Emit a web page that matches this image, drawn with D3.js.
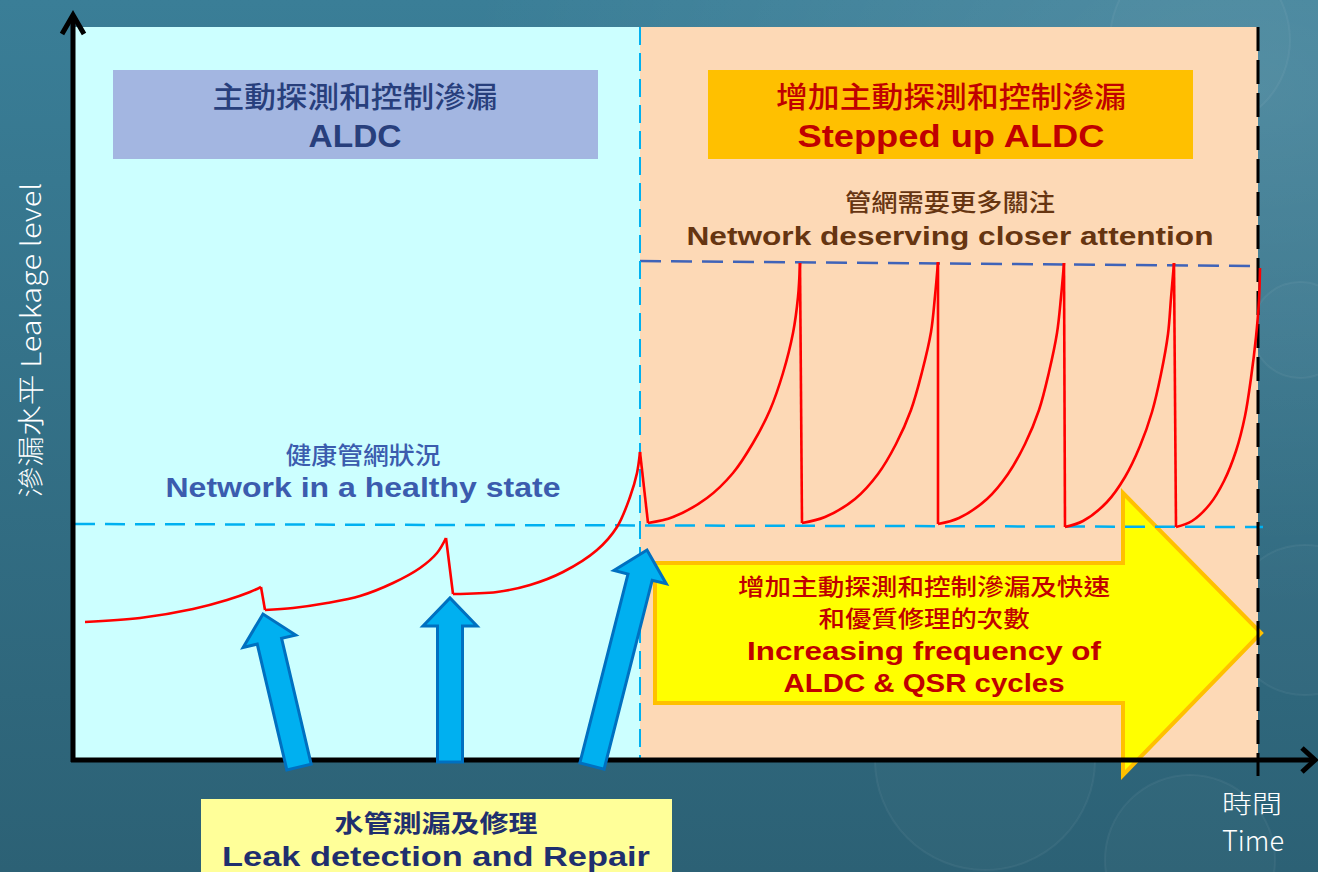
<!DOCTYPE html>
<html lang="en">
<head>
  <meta charset="UTF-8">
  <title>Leakage level over time</title>
  <style>
    body { margin: 0; background: #2f6a80; }
    svg { display: block; }
  </style>
</head>
<body>
  <svg id="svg" width="1318" height="872"></svg>

  <script src="https://d3js.org/d3.v7.min.js"></script>
  <script>
    // time runs 0..118.5 along x, leakage 0..73.3 up y (no tick labels in the original)

    // red leakage curve, one array per cycle, points are [time, leakage]
    const healthyCycles = [
      [[1.2, 13.8], [6.7, 14.2], [12.0, 15.1], [15.4, 16.0], [17.7, 16.8], [18.8, 17.3]],
      [[19.2, 15.0], [22.0, 15.2], [25.4, 15.7], [28.7, 16.4], [32.0, 17.7], [34.7, 19.2], [36.4, 20.7], [37.3, 22.2]],
      [[38.0, 16.6], [42.4, 16.8], [45.7, 17.5], [49.0, 18.8], [52.4, 21.0], [54.4, 23.3], [55.7, 26.3], [56.4, 28.7], [56.7, 30.8]]
    ]
    const steppedCycles = [
      [[57.5, 23.7], [60.0, 24.3], [63.4, 26.2], [66.0, 28.7], [68.0, 31.7], [69.7, 35.0], [71.0, 38.7], [72.0, 42.7], [72.5, 46.3], [72.7, 49.7]],
      [[72.9, 23.7], [75.2, 24.3], [78.2, 26.1], [80.5, 28.6], [82.3, 31.6], [83.8, 35.0], [84.9, 38.8], [85.8, 42.8], [86.2, 46.4], [86.5, 49.8]],
      [[86.5, 23.6], [88.6, 24.2], [91.4, 26.1], [93.5, 28.6], [95.2, 31.6], [96.6, 35.0], [97.6, 38.8], [98.4, 42.7], [98.8, 46.3], [99.1, 49.7]],
      [[99.2, 23.3], [101.0, 23.9], [103.4, 25.8], [105.2, 28.3], [106.7, 31.4], [107.9, 34.8], [108.8, 38.6], [109.5, 42.6], [109.8, 46.2], [110.1, 49.7]],
      [[110.3, 23.3], [111.9, 23.9], [113.7, 25.6], [115.1, 27.9], [116.3, 30.9], [117.2, 34.4], [117.8, 38.2], [118.3, 42.3], [118.6, 46.0], [118.7, 49.2]]
    ]

    // reference levels
    const healthyLevel = [[0.2, 23.6], [119.0, 23.3]]
    const alertLevel = [[56.7, 49.9], [118.7, 49.4]]

    // phases on the time axis
    const phaseStart = 56.7
    const phaseEnd = 118.5

    // repair arrows: base and tip as [time, leakage]
    const repairBases = [[22.6, -0.7], [37.7, -0.2], [51.9, -0.6]]
    const repairTips = [[19.0, 14.6], [37.7, 16.2], [57.4, 21.0]]

    // big yellow arrow outline, [time, leakage]
    const frequencyArrow = [
      [58.2, 19.7], [105.0, 19.7], [105.0, 26.7], [118.8, 12.7],
      [105.0, -1.5], [105.0, 5.7], [58.2, 5.7]
    ]

    // texts
    const aldcTitle = ['主動探測和控制滲漏', 'ALDC']
    const steppedTitle = ['增加主動探測和控制滲漏', 'Stepped up ALDC']
    const alertNote = ['管網需要更多關注', 'Network deserving closer attention']
    const healthyNote = ['健康管網狀況', 'Network in a healthy state']
    const frequencyNote = ['增加主動探測和控制滲漏及快速', '和優質修理的次數', 'Increasing frequency of', 'ALDC & QSR cycles']
    const repairNote = ['水管測漏及修理', 'Leak detection and Repair']
    const yTitle = '滲漏水平 Leakage level'
    const xTitle = ['時間', 'Time']

    const CJK = '"Noto Sans CJK TC", "Noto Sans", sans-serif'
    const LATIN = '"Liberation Sans", Arial, sans-serif'

    const svg = d3.select('#svg')

    // ------ SCALES ------------------------
    const x = d3.scaleLinear().domain([0, 118.5]).range([73, 1258])
    const y = d3.scaleLinear().domain([0, 73.3]).range([760, 27])

    // ------ BACKGROUND ------------------------
    const defs = svg.append('defs')
    const bg = defs.append('linearGradient').attr('id', 'bg')
      .attr('x1', 0).attr('y1', 0).attr('x2', 0).attr('y2', 1)
    bg.append('stop').attr('offset', '0%').attr('stop-color', '#3a7e97')
    bg.append('stop').attr('offset', '100%').attr('stop-color', '#2c6175')
    const glow = defs.append('radialGradient').attr('id', 'glow')
      .attr('cx', 0.95).attr('cy', 0.1).attr('r', 0.6)
    glow.append('stop').attr('offset', '0%').attr('stop-color', '#ffffff').attr('stop-opacity', 0.12)
    glow.append('stop').attr('offset', '100%').attr('stop-color', '#ffffff').attr('stop-opacity', 0)

    svg.append('rect').attr('width', 1318).attr('height', 872).attr('fill', 'url(#bg)')
    svg.append('rect').attr('width', 1318).attr('height', 872).attr('fill', 'url(#glow)')

    // faint bubbles on the right
    const bubbles = [[1300, 330, 48], [1305, 620, 75], [1190, 860, 85], [985, 760, 110], [1200, 40, 90]]
    svg.append('g').selectAll('circle').data(bubbles).join('circle')
      .attr('cx', d => d[0]).attr('cy', d => d[1]).attr('r', d => d[2])
      .attr('fill', 'rgba(255,255,255,0.02)')
      .attr('stroke', 'rgba(255,255,255,0.05)').attr('stroke-width', 2)

    // phase areas
    svg.append('rect')
      .attr('x', x(0) + 2).attr('y', y(73.3))
      .attr('width', x(phaseStart) - x(0) - 2).attr('height', y(0) - y(73.3) - 2)
      .attr('fill', '#ccffff')
    svg.append('rect')
      .attr('x', x(phaseStart)).attr('y', y(73.3))
      .attr('width', x(phaseEnd) - x(phaseStart)).attr('height', y(0) - y(73.3) - 2)
      .attr('fill', '#fdd9b6')

    // ------ TEXT HELPER ------------------------
    const label = (str, cx, baseline, size, fill, opts = {}) => {
      const t = svg.append('text')
        .attr('x', cx).attr('y', baseline)
        .attr('text-anchor', 'middle')
        .style('font-family', opts.font || LATIN)
        .style('font-size', size + 'px')
        .style('font-weight', opts.weight || 'bold')
        .attr('fill', fill)
        .text(str)
      if (opts.width) t.attr('textLength', opts.width).attr('lengthAdjust', 'spacingAndGlyphs')
      return t
    }

    // title boxes
    svg.append('rect').attr('x', 113).attr('y', 70).attr('width', 485).attr('height', 89).attr('fill', '#a3b6e1')
    label(aldcTitle[0], 355, 108, 29, '#283f7c', { font: CJK, weight: 500, width: 285 })
    label(aldcTitle[1], 355, 147, 31, '#283f7c', { width: 93 })

    svg.append('rect').attr('x', 708).attr('y', 70).attr('width', 485).attr('height', 89).attr('fill', '#ffc000')
    label(steppedTitle[0], 951, 108, 29, '#c00000', { font: CJK, weight: 500, width: 350 })
    label(steppedTitle[1], 951, 147, 31, '#c00000', { width: 307 })

    label(alertNote[0], 950, 211, 24, '#663511', { font: CJK, weight: 500, width: 210 })
    label(alertNote[1], 950, 245, 25, '#663511', { width: 527 })

    label(healthyNote[0], 363, 464, 24, '#3b5cae', { font: CJK, weight: 500, width: 155 })
    label(healthyNote[1], 363, 497, 27, '#3b5cae', { width: 395 })

    // ------ YELLOW ARROW ------------------------
    svg.append('path')
      .datum(frequencyArrow)
      .attr('d', d3.line().x(d => x(d[0])).y(d => y(d[1])).curve(d3.curveLinearClosed))
      .attr('fill', '#ffff00')
      .attr('stroke', '#ffc000')
      .attr('stroke-width', 4)
      .attr('stroke-linejoin', 'miter')

    label(frequencyNote[0], 924, 595, 23, '#c00000', { font: CJK, weight: 500, width: 372 })
    label(frequencyNote[1], 924, 627, 23, '#c00000', { font: CJK, weight: 500, width: 211 })
    label(frequencyNote[2], 924, 660, 26, '#c00000', { width: 354 })
    label(frequencyNote[3], 924, 692, 26, '#c00000', { width: 281 })

    // ------ LEVEL LINES ------------------------
    const straight = d3.line().x(d => x(d[0])).y(d => y(d[1]))

    svg.append('path').datum(healthyLevel).attr('d', straight)
      .attr('fill', 'none').attr('stroke', '#00b0f0').attr('stroke-width', 2.5)
      .attr('stroke-dasharray', '20,10')
    svg.append('path').datum(alertLevel).attr('d', straight)
      .attr('fill', 'none').attr('stroke', '#3f63b8').attr('stroke-width', 2.5)
      .attr('stroke-dasharray', '21,10')

    // phase boundaries
    svg.append('line')
      .attr('x1', x(phaseStart)).attr('x2', x(phaseStart))
      .attr('y1', y(73.3)).attr('y2', y(0) - 2)
      .attr('stroke', '#00b0f0').attr('stroke-width', 2)
      .attr('stroke-dasharray', '18,8')
    svg.append('line')
      .attr('x1', x(phaseEnd)).attr('x2', x(phaseEnd))
      .attr('y1', y(73.3)).attr('y2', 776)
      .attr('stroke', '#000').attr('stroke-width', 3)
      .attr('stroke-dasharray', '24,9')

    // ------ LEAKAGE CURVE ------------------------
    const smooth = d3.line().x(d => x(d[0])).y(d => y(d[1])).curve(d3.curveCatmullRom.alpha(0.5))
    const cycles = healthyCycles.concat(steppedCycles)
    const curveGroup = svg.append('g')
      .attr('fill', 'none').attr('stroke', '#ff0000').attr('stroke-width', 2.6)
      .attr('stroke-linejoin', 'round')

    curveGroup.selectAll('path.rise').data(cycles).join('path')
      .attr('class', 'rise')
      .attr('d', smooth)

    // sudden drops after each repair
    const drops = cycles.slice(0, -1).map((c, i) => [c[c.length - 1], cycles[i + 1][0]])
    curveGroup.selectAll('path.drop').data(drops).join('path')
      .attr('class', 'drop')
      .attr('d', straight)

    // ------ AXES ------------------------
    const bottomAxis = d3.axisBottom(x).tickValues([]).tickSizeOuter(0)
    const gx = svg.append('g').attr('transform', `translate(0, ${y(0)})`).call(bottomAxis)
    gx.select('.domain').attr('d', `M${x(0) - 2},0H1314`).attr('stroke', '#000').attr('stroke-width', 5)
    gx.append('path').attr('d', 'M1302,-12L1315,0L1302,12')
      .attr('fill', 'none').attr('stroke', '#000').attr('stroke-width', 5)

    const leftAxis = d3.axisLeft(y).tickValues([]).tickSizeOuter(0)
    const gy = svg.append('g').attr('transform', `translate(${x(0)}, 0)`).call(leftAxis)
    gy.select('.domain').attr('d', `M0,${y(0) + 2}V15`).attr('stroke', '#000').attr('stroke-width', 5)
    gy.append('path').attr('d', 'M-11,34L0,15L11,34')
      .attr('fill', 'none').attr('stroke', '#000').attr('stroke-width', 5)

    // axis titles
    svg.append('text')
      .attr('transform', 'translate(41, 340) rotate(-90)')
      .attr('text-anchor', 'middle')
      .attr('textLength', 315).attr('lengthAdjust', 'spacingAndGlyphs')
      .style('font-family', CJK)
      .style('font-size', '27px')
      .style('font-weight', 300)
      .attr('fill', '#ffffff')
      .text(yTitle)
    label(xTitle[0], 1252, 813, 25, '#ffffff', { font: CJK, weight: 300, width: 60 })
    label(xTitle[1], 1253, 851, 28, '#ffffff', { font: CJK, weight: 300, width: 62 })

    // ------ REPAIR ARROWS ------------------------
    const shaftHalf = 12.5, headHalf = 27, headLen = 28
    const arrowShape = (base, tip) => {
      const bx = x(base[0]), by = y(base[1]), tx = x(tip[0]), ty = y(tip[1])
      const len = Math.hypot(tx - bx, ty - by)
      const dx = (tx - bx) / len, dy = (ty - by) / len
      const nx = -dy, ny = dx
      const hx = tx - dx * headLen, hy = ty - dy * headLen
      return [
        [bx + nx * shaftHalf, by + ny * shaftHalf],
        [hx + nx * shaftHalf, hy + ny * shaftHalf],
        [hx + nx * headHalf, hy + ny * headHalf],
        [tx, ty],
        [hx - nx * headHalf, hy - ny * headHalf],
        [hx - nx * shaftHalf, hy - ny * shaftHalf],
        [bx - nx * shaftHalf, by - ny * shaftHalf]
      ]
    }
    svg.append('g').selectAll('path').data(repairBases).join('path')
      .attr('d', (d, i) => d3.line().curve(d3.curveLinearClosed)(arrowShape(d, repairTips[i])))
      .attr('fill', '#00b0f0')
      .attr('stroke', '#0070c0')
      .attr('stroke-width', 3)
      .attr('stroke-linejoin', 'miter')

    // ------ REPAIR NOTE ------------------------
    svg.append('rect').attr('x', 201).attr('y', 799).attr('width', 471).attr('height', 80).attr('fill', '#ffff99')
    label(repairNote[0], 436, 832, 24, '#1f2f6e', { font: CJK, weight: 'bold', width: 203 })
    label(repairNote[1], 436, 866, 27, '#1f2f6e', { width: 428 })
  </script>
</body>
</html>
